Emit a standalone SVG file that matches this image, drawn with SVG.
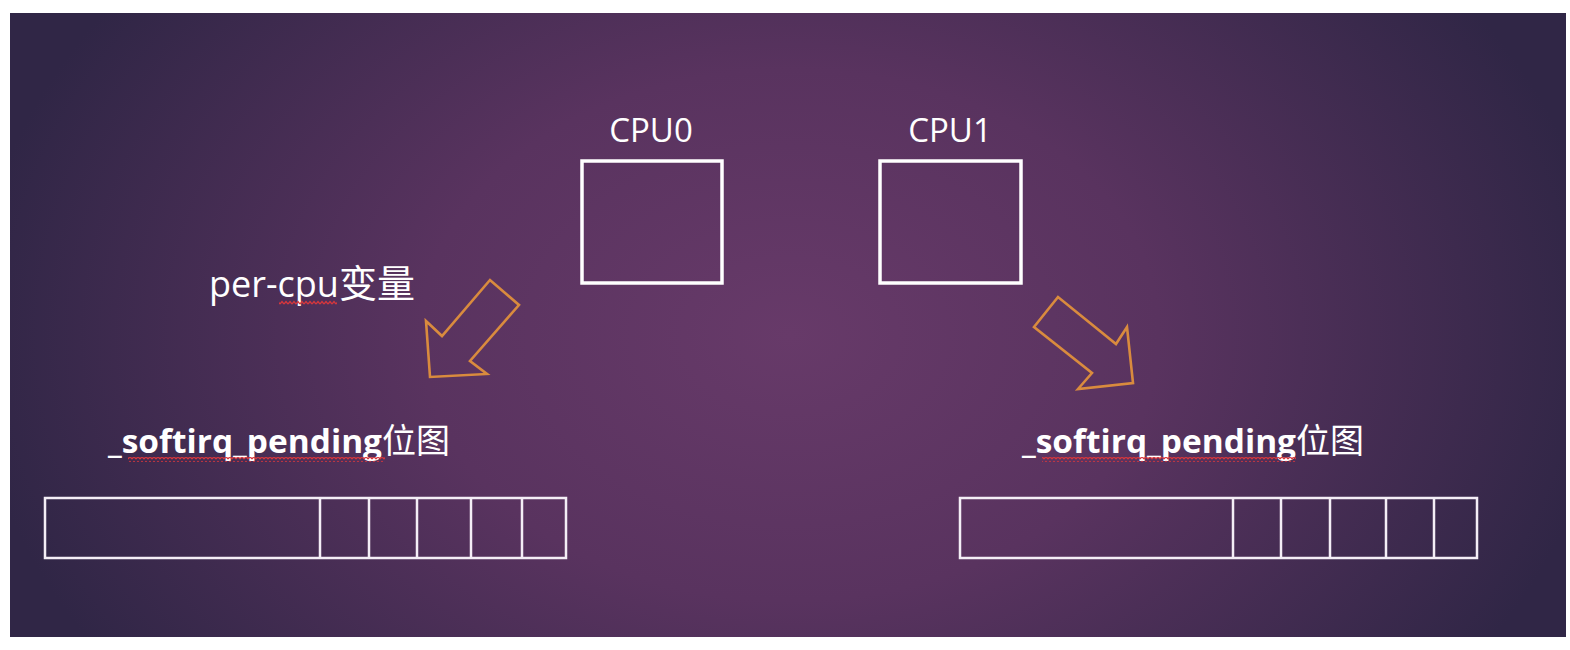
<svg xmlns="http://www.w3.org/2000/svg" width="1570" height="650" viewBox="0 0 1570 650">
<defs>
<radialGradient id="bg" gradientUnits="userSpaceOnUse" cx="790" cy="335" r="820" gradientTransform="translate(0 335) scale(1 0.72) translate(0 -335)">
<stop offset="0" stop-color="#673a69"/>
<stop offset="0.45" stop-color="#59335f"/>
<stop offset="1" stop-color="#302646"/>
</radialGradient>
<pattern id="wave" patternUnits="userSpaceOnUse" x="0" y="0" width="4" height="5">
<path d="M0 4 L2 1.5 L4 4" fill="none" stroke="#d6363c" stroke-width="1.3"/>
</pattern>
<style>
.box{fill:none;stroke:#ffffff;stroke-width:3.5}
.cell{fill:none;stroke:#f4eef6;stroke-width:2.5}
.arrow{fill:none;stroke:#d98b3e;stroke-width:2.6;stroke-linejoin:miter}
.cpu{font-family:"Open Sans","Liberation Sans",sans-serif;font-size:33px;fill:#ffffff;text-anchor:middle}
.lbl{font-family:"Open Sans","Liberation Sans",sans-serif;font-size:36px;fill:#ffffff}
.bm{font-family:"Open Sans","Liberation Sans",sans-serif;font-size:32px;font-weight:bold;fill:#ffffff}
.cjk{font-family:"Noto Sans CJK SC",sans-serif;font-weight:normal}
.sq{fill:url(#wave)}
</style>
</defs>
<rect x="0" y="0" width="1570" height="650" fill="#ffffff"/>
<rect x="10" y="13" width="1556" height="624" fill="url(#bg)"/>

<g id="cpu0">
<text class="cpu" x="651" y="142">CPU0</text>
<rect class="box" x="582" y="161" width="140" height="122"/>
</g>
<g id="cpu1">
<text class="cpu" x="950" y="142">CPU1</text>
<rect class="box" x="880" y="161" width="141" height="122"/>
</g>

<g id="label-percpu">
<text class="lbl" x="209" y="297">per-cpu<tspan class="cjk" font-size="38px">变量</tspan></text>
<rect class="sq" x="279" y="300" width="58" height="5"/>
</g>

<g id="connectors">
<polygon class="arrow" points="430,377 426,321 442,336 490,280 519,305 470,361 487,374"/>
<polygon class="arrow" points="1058,297 1034,327 1092,373 1078,389 1133,383 1127,327 1116,344"/>
</g>

<g id="bitmap0">
<text class="bm" x="108" y="453"><tspan textLength="274" lengthAdjust="spacingAndGlyphs">_softirq_pending</tspan><tspan class="cjk" font-size="34px">位图</tspan></text>
<rect class="sq" x="128" y="457" width="257" height="5"/>
<rect class="cell" x="45" y="498" width="521" height="60"/>
<line class="cell" x1="320" y1="498" x2="320" y2="558"/>
<line class="cell" x1="369" y1="498" x2="369" y2="558"/>
<line class="cell" x1="417" y1="498" x2="417" y2="558"/>
<line class="cell" x1="471" y1="498" x2="471" y2="558"/>
<line class="cell" x1="522" y1="498" x2="522" y2="558"/>
</g>

<g id="bitmap1">
<text class="bm" x="1022" y="453"><tspan textLength="274" lengthAdjust="spacingAndGlyphs">_softirq_pending</tspan><tspan class="cjk" font-size="34px">位图</tspan></text>
<rect class="sq" x="1042" y="457" width="254" height="5"/>
<rect class="cell" x="960" y="498" width="517" height="60"/>
<line class="cell" x1="1233" y1="498" x2="1233" y2="558"/>
<line class="cell" x1="1281" y1="498" x2="1281" y2="558"/>
<line class="cell" x1="1330" y1="498" x2="1330" y2="558"/>
<line class="cell" x1="1386" y1="498" x2="1386" y2="558"/>
<line class="cell" x1="1434" y1="498" x2="1434" y2="558"/>
</g>
</svg>
